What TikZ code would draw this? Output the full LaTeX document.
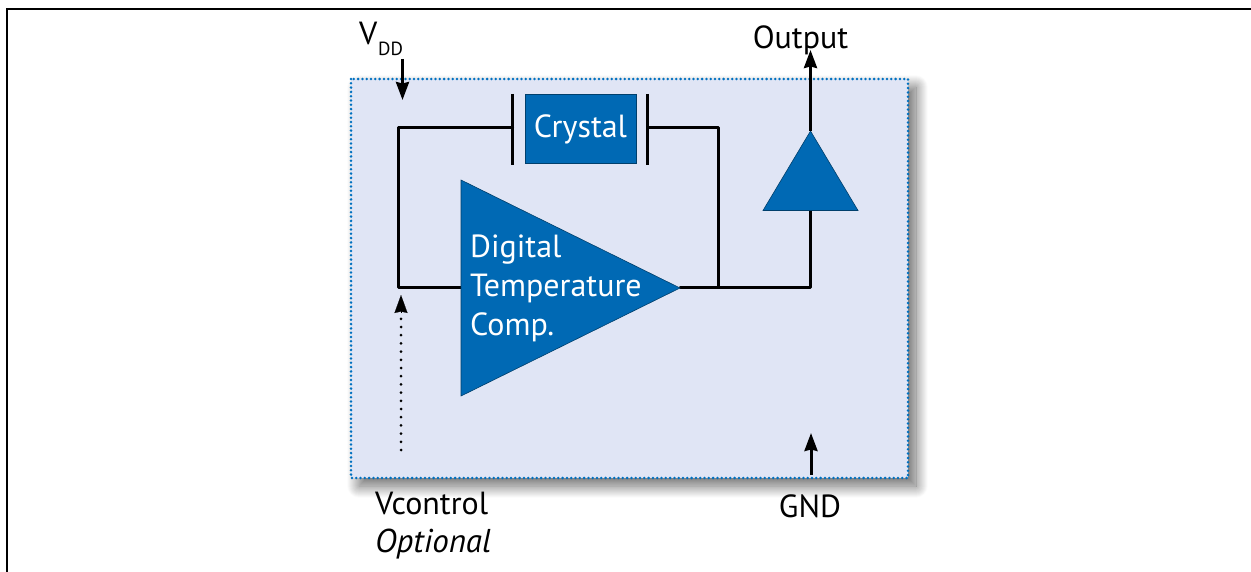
\documentclass[tikz,border=0pt]{standalone}
\usepackage{fontspec}
\setmainfont{PT Sans}
\usetikzlibrary{arrows.meta,shadows.blur,calc}
\definecolor{panelfill}{HTML}{E0E5F5}
\definecolor{blueshape}{HTML}{0069B4}
\definecolor{dotblue}{HTML}{0070C0}
\tikzset{
 x=1pt,y=-1pt,
 wire/.style={draw=black,line width=3pt,line cap=round,line join=round},
 pin/.style={draw=black,line width=3pt,-{Stealth[length=18pt,width=13pt,inset=1.5pt]}},
 lab/.style={font=\fontsize{32}{38}\selectfont,text=black,inner sep=0pt},
 inlab/.style={font=\fontsize{32}{38}\selectfont,text=white,inner sep=0pt},
 shapefill/.style={fill=blueshape,draw=blueshape!60!black,line width=0.6pt},
 plate/.style={draw=black,line width=3pt}
}
\begin{document}
\begin{tikzpicture}
\useasboundingbox (0,0) rectangle (1251,572);
% page frame
\draw[black,line width=2.4pt] (7,572) -- (7,9) -- (1251,9);
% panel
\path[blur shadow={shadow xshift=8pt,shadow yshift=-8pt,shadow blur steps=24,shadow blur radius=12pt,shadow opacity=60},fill=panelfill] (351,79) rectangle (908,478);
\draw[dotblue,line width=2.8pt,line cap=round,dash pattern=on 0pt off 4.3pt] (351,79) rectangle (908,478);
% coords
\coordinate (vddtop) at (402.5,59);
\coordinate (vddend) at (402.5,100);
\coordinate (loopbl) at (398,287.5);
\coordinate (looptl) at (398,127.5);
\coordinate (plL) at (512.5,127.5);
\coordinate (plR) at (647.5,127.5);
\coordinate (rtop) at (718.5,127.5);
\coordinate (rjun) at (718.5,287.5);
\coordinate (ojun) at (810.5,287.5);
\coordinate (ctlS) at (401,450);
\coordinate (ctlD) at (401,316);
\coordinate (ctlB) at (401,313);
\coordinate (ctlE) at (401,295);
\coordinate (gndS) at (811,475);
\coordinate (gndE) at (811,433);
\coordinate (outE) at (810.5,50);
\coordinate (ampL) at (461,287.5);
\coordinate (ampR) at (680,287.5);
\coordinate (bufT) at (810.5,131);
\coordinate (bufB) at (810.5,210);
% wires
\draw[wire] (plL) -- (looptl) -- (loopbl) -- (ampL);
\draw[wire] (plR) -- (rtop) -- (rjun);
\draw[wire] (ampR) -- (ojun) -- (bufB);
% triangles
\draw[shapefill] (461,180) -- (680,288) -- (461,396) -- cycle;
\draw[shapefill] (810.5,131) -- (858,210.5) -- (763,210.5) -- cycle;
\draw[pin] (bufT) -- (outE);
% crystal
\node[shapefill,minimum width=111pt,minimum height=69pt,inner sep=0pt] (xtal) at (580.5,129) {};
\node[inlab,anchor=base] (xt) at (580.5,138) {Crystal};
\draw[plate] (512.5,94) -- (512.5,165);
\draw[plate] (647.5,94) -- (647.5,165);
% pins
\draw[pin] (vddtop) -- (vddend);
\draw[black,line width=3pt,line cap=round,dash pattern=on 0pt off 8.2pt] (ctlS) -- (ctlD);
\draw[draw=black,line width=0.1pt,-{Stealth[length=18pt,width=13pt,inset=1.5pt]}] (ctlB) -- (ctlE);
\draw[pin] (gndS) -- (gndE);
% labels
\node[inlab,anchor=base west] (d1) at (470,258) {Digital};
\node[inlab,anchor=base west] (d2) at (470,297) {Temperature};
\node[inlab,anchor=base west] (d3) at (470,335) {Comp.};
\node[lab,anchor=base west] (v) at (359,45) {V};
\node[lab,anchor=base west,font=\fontsize{19}{22}\selectfont] (vs) at (378,56) {DD};
\node[lab,anchor=base] (o) at (800.5,49) {Output};
\node[lab,anchor=base] (g) at (810,517) {GND};
\node[lab,anchor=base west] (vc) at (375,514) {Vcontrol};
\node[lab,anchor=base west,font=\fontsize{33}{38}\selectfont\itshape] (op) at (375,552) {Optional};
\end{tikzpicture}
\end{document}
